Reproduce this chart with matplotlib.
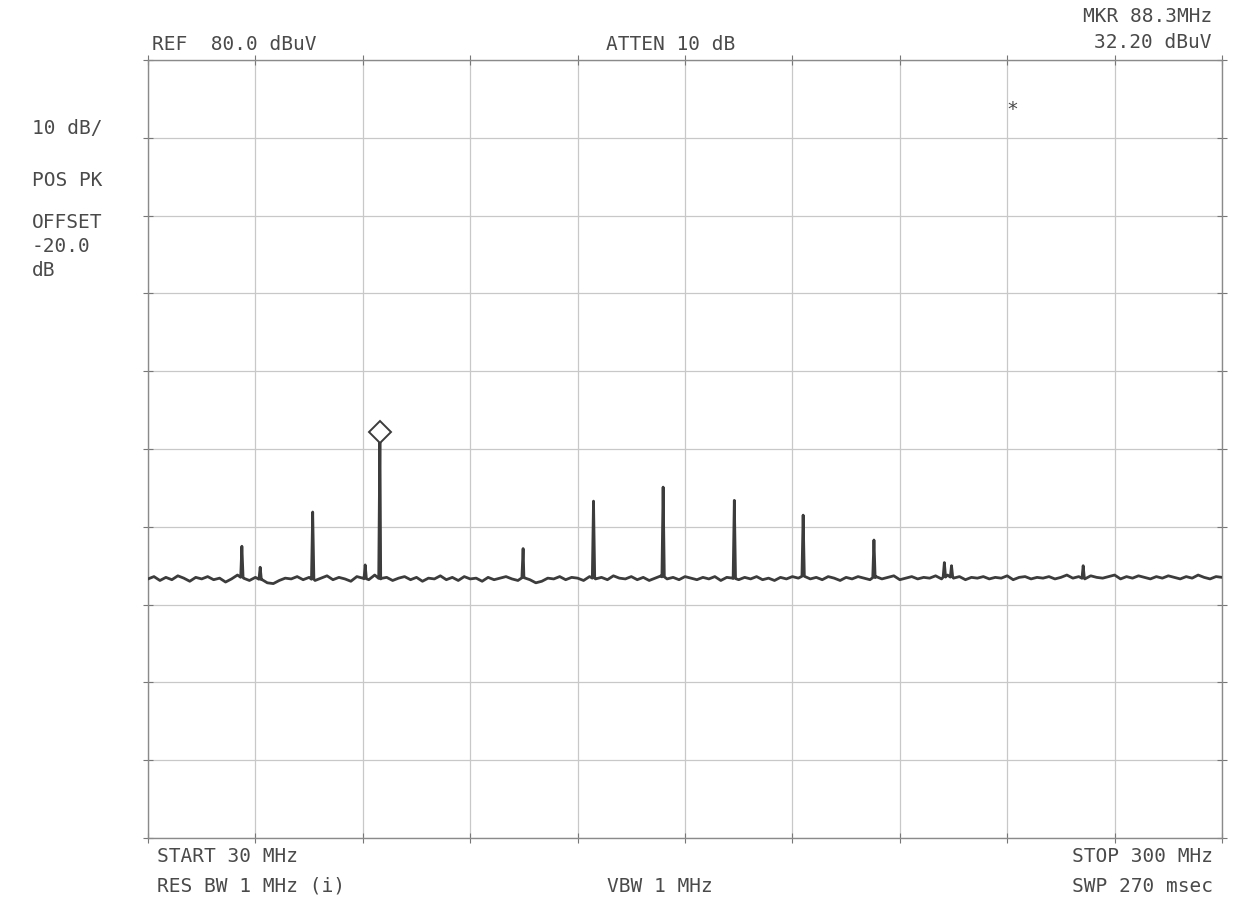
import numpy as np
import matplotlib
matplotlib.use("Agg")
import matplotlib.pyplot as plt

# sweep settings
start_mhz = 30
stop_mhz = 300
ref_level = 80.0
db_per_div = 10

# noise floor, read every 1.5 MHz from 30 to 300 MHz (dBuV)
noise_db = [
    13.3, 13.6, 13.1, 13.5, 13.2, 13.7, 13.4, 13.0, 13.5, 13.3,
    13.6, 13.2, 13.4, 12.9, 13.3, 13.8, 13.4, 13.1, 13.5, 13.2,
    12.8, 12.7, 13.1, 13.4, 13.3, 13.6, 13.2, 13.5, 13.1, 13.4,
    13.7, 13.2, 13.5, 13.3, 13.0, 13.6, 13.4, 13.2, 13.8, 13.3,
    13.5, 13.1, 13.4, 13.6, 13.2, 13.5, 13.0, 13.4, 13.3, 13.7,
    13.2, 13.5, 13.1, 13.6, 13.3, 13.4, 13.0, 13.5, 13.2, 13.4,
    13.6, 13.3, 13.1, 13.5, 13.2, 12.8, 13.0, 13.4, 13.3, 13.6,
    13.2, 13.5, 13.4, 13.1, 13.6, 13.3, 13.5, 13.2, 13.7, 13.4,
    13.3, 13.6, 13.2, 13.5, 13.1, 13.4, 13.7, 13.3, 13.5, 13.2,
    13.6, 13.4, 13.2, 13.5, 13.3, 13.6, 13.1, 13.5, 13.4, 13.2,
    13.5, 13.3, 13.6, 13.2, 13.4, 13.1, 13.5, 13.3, 13.6, 13.4,
    13.7, 13.3, 13.5, 13.2, 13.6, 13.4, 13.1, 13.5, 13.3, 13.6,
    13.4, 13.2, 13.6, 13.3, 13.5, 13.7, 13.2, 13.4, 13.6, 13.3,
    13.5, 13.4, 13.7, 13.3, 13.8, 13.4, 13.6, 13.2, 13.5, 13.4,
    13.6, 13.3, 13.5, 13.4, 13.7, 13.2, 13.5, 13.6, 13.3, 13.5,
    13.4, 13.6, 13.3, 13.5, 13.8, 13.4, 13.6, 13.3, 13.7, 13.5,
    13.4, 13.6, 13.8, 13.3, 13.6, 13.4, 13.7, 13.5, 13.3, 13.6,
    13.4, 13.7, 13.5, 13.3, 13.6, 13.4, 13.8, 13.5, 13.3, 13.6,
    13.5,
]

# discrete spurs (MHz, dBuV)
spur_freq = [53.6, 58.2, 71.4, 84.6, 88.3, 124.3, 142.0, 159.5, 177.4,
             194.7, 212.5, 230.2, 232.0, 265.1]
spur_level = [17.5, 14.8, 21.9, 15.1, 32.2, 17.2, 23.3, 25.1, 23.4,
              21.5, 18.3, 15.4, 15.0, 15.0]

marker_freq = 88.3
marker_level = 32.2

# build the trace: noise floor plus the narrow spurs
noise_f = np.linspace(start_mhz, stop_mhz, len(noise_db))
tr_f = list(noise_f)
tr_a = list(noise_db)
for f, lvl in zip(spur_freq, spur_level):
    base = np.interp(f, noise_f, noise_db)
    tr_f += [f - 0.3, f, f + 0.3]
    tr_a += [base, lvl, base]
order = np.argsort(tr_f, kind="stable")
tr_f = np.array(tr_f)[order]
tr_a = np.array(tr_a)[order]

txt = "#4a4a4a"
font = "DejaVu Sans Mono"
fs = 14

fig = plt.figure(figsize=(12.38, 9.02), dpi=100)
ax = fig.add_axes([148 / 1238, 1 - 838 / 902, 1074 / 1238, 778 / 902])

ax.plot(tr_f, tr_a, color="#3c3c3c", lw=2.0, zorder=3)
ax.plot([marker_freq], [marker_level], marker="D", ms=11, mfc="white",
        mec="#3c3c3c", mew=1.4, zorder=4)

bottom = ref_level - 10 * db_per_div
ax.set_xlim(start_mhz, stop_mhz)
ax.set_ylim(bottom, ref_level)
ax.set_xticks(np.linspace(start_mhz, stop_mhz, 11))
ax.set_yticks(np.linspace(bottom, ref_level, 11))
ax.grid(True, color="#c8c8c8", lw=0.9)
ax.tick_params(direction="inout", length=7, color="#777777",
               top=True, right=True, labelbottom=False, labelleft=False)
for s in ax.spines.values():
    s.set_color("#8a8a8a")
    s.set_linewidth(1.0)

# asterisk marker near the top right
ax.text(247.2, 73.6, "*", ha="center", va="center", fontsize=fs,
        family=font, color=txt)

def label(x, y, s, ha="left"):
    fig.text(x / 1238, 1 - y / 902, s, ha=ha, va="center",
             fontsize=fs, family=font, color=txt)

label(152, 44, "REF  80.0 dBuV")
label(606, 44, "ATTEN 10 dB")
label(1212, 17, "MKR 88.3MHz", ha="right")
label(1212, 43, "32.20 dBuV", ha="right")
label(32, 128, "10 dB/")
label(32, 180, "POS PK")
label(32, 222, "OFFSET")
label(32, 246, "-20.0")
label(32, 270, "dB")
label(157, 856, "START 30 MHz")
label(157, 886, "RES BW 1 MHz (i)")
label(607, 886, "VBW 1 MHz")
label(1213, 856, "STOP 300 MHz", ha="right")
label(1213, 886, "SWP 270 msec", ha="right")

fig.savefig("out.png", dpi=100, facecolor="white")
